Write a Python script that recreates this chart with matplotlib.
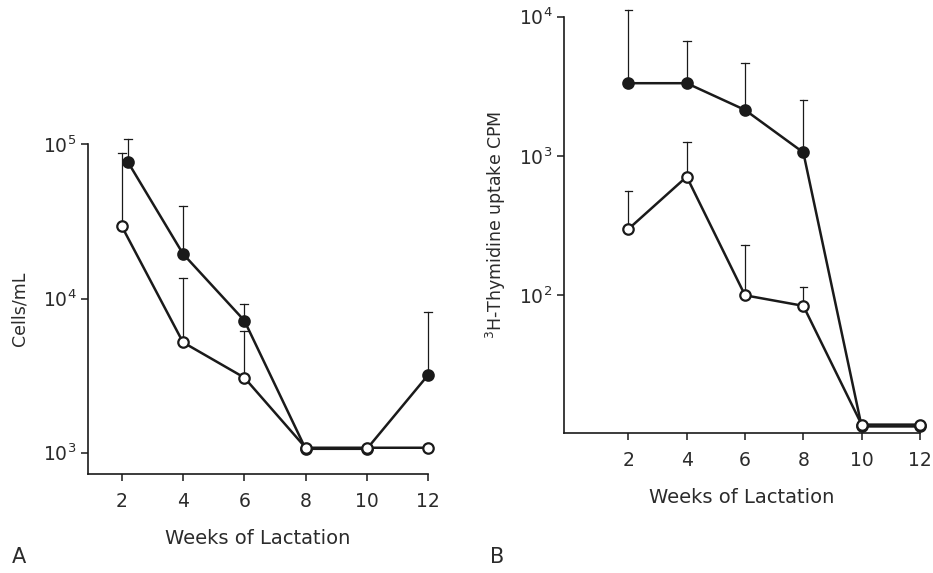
import numpy as np
import matplotlib
matplotlib.use("Agg")
import matplotlib.pyplot as plt

## DATA
weeks = [2, 4, 6, 8, 10, 12]

# panel A - cells/mL
a_filled_x = [2.2, 4, 6, 8, 10, 12]
a_filled = [7.7e4, 1.95e4, 7.2e3, 1.06e3, 1.06e3, 3.2e3]
a_filled_top = [1.08e5, 4.0e4, 9.2e3, None, None, 8.2e3]
a_open = [2.95e4, 5.2e3, 3.07e3, 1.077e3, 1.077e3, 1.077e3]
a_open_top = [8.8e4, 1.36e4, 6.2e3, None, None, None]

# panel B - 3H-thymidine uptake CPM
b_filled = [3.33e3, 3.33e3, 2.14e3, 1.06e3, 11.45, 11.45]
b_filled_top = [1.12e4, 6.66e3, 4.65e3, 2.54e3, None, None]
b_open = [299, 710, 100, 84, 11.8, 11.8]
b_open_top = [558, 1.26e3, 229, 115, None, None]

plt.rcParams['font.family'] = ['DejaVu Sans']
plt.rcParams['mathtext.fontset'] = 'dejavusans'
ink = '#1a1a1a'
txt = '#2b2b2b'

fig = plt.figure(figsize=(9.33, 5.73), dpi=100)
axA = fig.add_axes([0.0943, 0.1728, 0.3647, 0.5752])
axB = fig.add_axes([0.6048, 0.2449, 0.3812, 0.7260])


def upper_bars(ax, xs, ys, tops):
    for x, y, t in zip(xs, ys, tops):
        if t is None:
            continue
        ax.plot([x, x], [y, t], color=ink, lw=0.9, zorder=1, clip_on=False)
        ax.plot([x - 0.13, x + 0.13], [t, t], color=ink, lw=0.9, zorder=1, clip_on=False)


def series(ax, xs, ys, filled):
    ax.plot(xs, ys, color=ink, lw=1.8, marker='o', ms=7.5, mew=1.6,
            mfc=ink if filled else 'white', mec=ink, zorder=3 if not filled else 2,
            clip_on=False)


def style(ax, yt, ylab):
    ax.set_yscale('log')
    ax.spines['top'].set_visible(False)
    ax.spines['right'].set_visible(False)
    for s in ['left', 'bottom']:
        ax.spines[s].set_color(ink)
        ax.spines[s].set_linewidth(1.2)
    ax.set_xticks(weeks)
    ax.set_xticklabels([str(w) for w in weeks])
    ax.set_yticks(yt)
    ax.set_yticklabels(['10$^{%d}$' % int(np.log10(v)) for v in yt])
    ax.minorticks_off()
    ax.tick_params(axis='both', direction='out', length=5, width=1.1, color=ink,
                   labelsize=13.5, labelcolor=txt)
    ax.tick_params(axis='x', pad=8)
    ax.set_ylabel(ylab, fontsize=12.5, color=txt)
    ax.set_xlabel('Weeks of Lactation', fontsize=14, color=txt, labelpad=13)


## PANEL A
upper_bars(axA, a_filled_x, a_filled, a_filled_top)
upper_bars(axA, weeks, a_open, a_open_top)
series(axA, a_filled_x, a_filled, True)
series(axA, weeks, a_open, False)
axA.set_xlim(0.9, 12)
axA.set_ylim(10 ** 2.862, 1e5)
style(axA, [1e3, 1e4, 1e5], 'Cells/mL')
axA.yaxis.labelpad = 10

## PANEL B
upper_bars(axB, weeks, b_filled, b_filled_top)
upper_bars(axB, weeks, b_open, b_open_top)
series(axB, weeks, b_filled, True)
series(axB, weeks, b_open, False)
axB.set_xlim(-0.2, 12)
axB.set_ylim(10 ** 1.014, 1e4)
style(axB, [1e2, 1e3, 1e4], '$^{3}$H-Thymidine uptake CPM')
axB.yaxis.labelpad = 8

fig.text(0.013, 0.018, 'A', fontsize=15, color=txt)
fig.text(0.525, 0.018, 'B', fontsize=15, color=txt)

fig.savefig('out.png', dpi=100)
